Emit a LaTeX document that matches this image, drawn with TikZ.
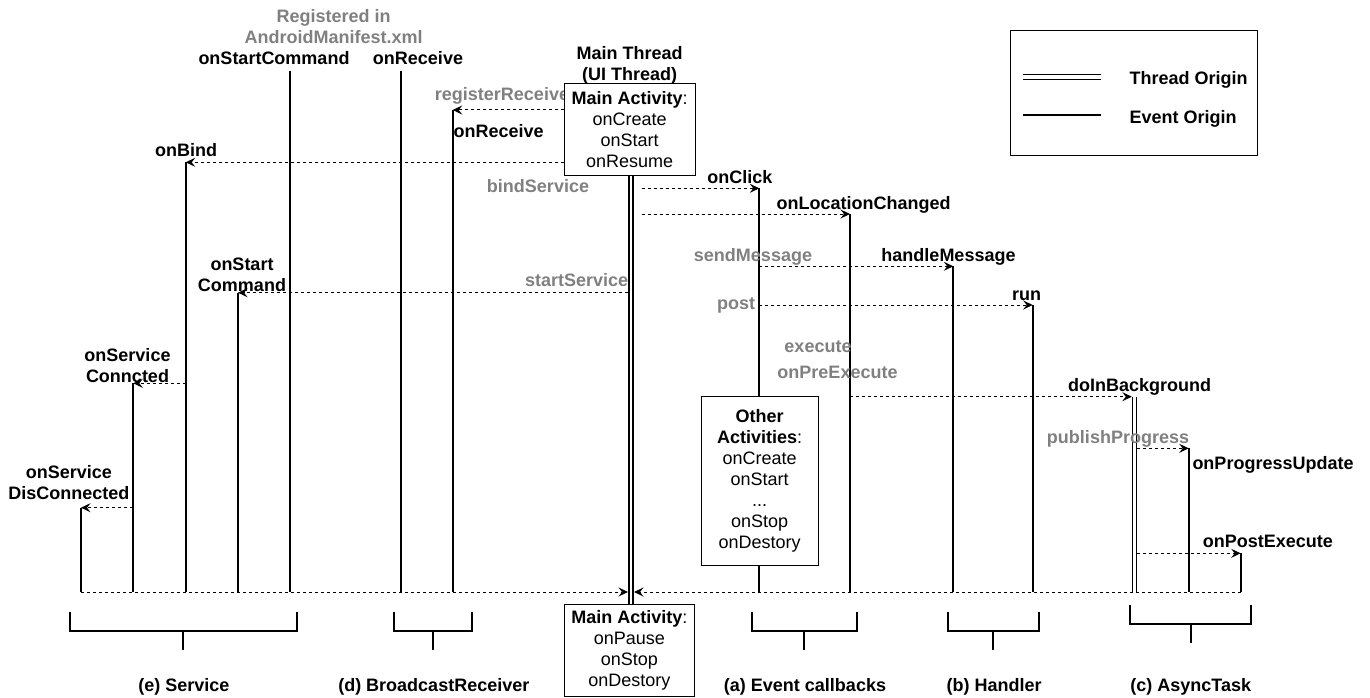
\documentclass[tikz,border=0pt]{standalone}
\usepackage{fontspec}
\setmainfont{Liberation Sans}
\usetikzlibrary{arrows.meta,calc}
\definecolor{lblgray}{RGB}{128,128,128}
\begin{document}
\begin{tikzpicture}[x=1pt,y=-1pt,
  every node/.style={font=\fontsize{18}{21}\selectfont\bfseries, inner sep=0pt},
  lbl/.style={anchor=base},
  glbl/.style={anchor=base, text=lblgray},
  mlbl/.style={align=center, anchor=center},
  life/.style={line width=2pt},
  thread/.style={double, double distance=2.4pt, line width=1.4pt},
  call/.style={dash pattern=on 3pt off 3pt, line width=1pt, -{Stealth[length=9.5pt,width=9pt,inset=3.5pt]}},
  actbox/.style={draw, line width=1pt, fill=white, align=center, font=\fontsize{18}{21}\selectfont, inner sep=0pt},
  brk/.style={line width=2pt},
]
\useasboundingbox (0,0) rectangle (1370,698);

% ---------- reference coordinates ----------
\coordinate (bl) at (0,592);
\coordinate (s1t) at (81,507.7);
\coordinate (s2t) at (133.3,383.3);
\coordinate (s3t) at (185.7,162.3);
\coordinate (s4t) at (238,292.7);
\coordinate (s5t) at (290,70.7);
\coordinate (r1t) at (400.7,70.7);
\coordinate (r2t) at (452.7,110);
\coordinate (e1t) at (759.3,188.3);
\coordinate (e2t) at (850,214);
\coordinate (h1t) at (953.3,266.3);
\coordinate (h2t) at (1032.7,305);
\coordinate (a1t) at (1134.5,396.7);
\coordinate (a1l) at (1131.8,396.7);
\coordinate (a1r) at (1137.3,0);
\coordinate (a2t) at (1188.7,448.3);
\coordinate (a3t) at (1240.7,553.3);
\coordinate (mt) at (631,0);
\coordinate (mtL) at (628,0);
\coordinate (mtR) at (641.7,0);
\coordinate (mtbL) at (628,592);
\coordinate (mtbR) at (634,592);

% ---------- lifelines ----------
\foreach \c in {s1t,s2t,s3t,s4t,s5t,r1t,r2t,e1t,e2t,h1t,h2t,a2t,a3t}
  \draw[life] (\c) -- (\c |- bl);
\draw[thread] (a1t) -- (a1t |- bl);

% ---------- labels ----------
\node[mlbl, text=lblgray] (regl) at (333.6,26.5) {Registered in\\AndroidManifest.xml};
\node[lbl] (l_s5) at (274,64.6) {onStartCommand};
\node[lbl] (l_r1) at (418,64.6) {onReceive};
\node[mlbl] (l_mt) at (629.7,65.5) {Main Thread\\(UI Thread)};
\node[glbl] (l_reg) at (505.5,101) {registerReceiver};
\node[lbl] (l_r2) at (498.7,137) {onReceive};
\node[lbl] (l_s3) at (186,156.3) {onBind};
\node[glbl] (l_bind) at (538,192) {bindService};
\node[lbl] (l_e1) at (739.8,183) {onClick};
\node[lbl] (l_e2) at (863.5,209.7) {onLocationChanged};
\node[mlbl] (l_s4) at (242,274.5) {onStart\\Command};
\node[glbl] (l_start) at (576.7,286.3) {startService};
\node[glbl] (l_send) at (753,261.3) {sendMessage};
\node[lbl] (l_h1) at (948.5,261.3) {handleMessage};
\node[glbl] (l_post) at (736,309.5) {post};
\node[lbl] (l_h2) at (1026.5,300.7) {run};
\node[mlbl] (l_s2) at (127.5,365.5) {onService\\Conncted};
\node[glbl] (l_exec) at (818,352.7) {execute};
\node[glbl] (l_pre) at (837.5,378.3) {onPreExecute};
\node[lbl] (l_a1) at (1139.7,391.3) {doInBackground};
\node[glbl] (l_pub) at (1118,443) {publishProgress};
\node[lbl] (l_a2) at (1273,469.7) {onProgressUpdate};
\node[mlbl] (l_s1) at (68.8,482.7) {onService\\DisConnected};
\node[lbl] (l_a3) at (1267.8,547.7) {onPostExecute};

% ---------- boxes ----------
\node[actbox, minimum width=130.7pt, minimum height=91pt] (mainbox) at (629.7,129.5)
  {\textbf{Main Activity}:\\onCreate\\onStart\\onResume};
\node[actbox, minimum width=117.3pt, minimum height=169.3pt] (otherbox) at (759.7,481.3)
  {\textbf{Other}\\\textbf{Activities}:\\onCreate\\onStart\\...\\onStop\\onDestory};
\node[actbox, minimum width=130pt, minimum height=91.7pt] (endbox) at (629.3,650.8)
  {\textbf{Main Activity}:\\onPause\\onStop\\onDestory};

% main thread
\draw[thread] (mainbox.south -| mt) -- (endbox.north -| mt);

% ---------- calls ----------
\draw[call] (r2t -| mainbox.west) -- (r2t);
\draw[call] (s3t -| mainbox.west) -- (s3t);
\draw[call] (e1t -| mtR) -- (e1t);
\draw[call] (e2t -| mtR) -- (e2t);
\draw[call] (s4t -| mtL) -- (s4t);
\draw[call] (h1t -| e1t) -- (h1t);
\draw[call] (h2t -| e1t) -- (h2t);
\draw[call] (a1l -| e2t) -- (a1l);
\draw[call] (a2t -| a1r) -- (a2t);
\draw[call] (a3t -| a1r) -- (a3t);
\draw[call] (s2t -| s3t) -- (s2t);
\draw[call] (s1t -| s2t) -- (s1t);
\draw[call] (s1t |- bl) -- (mtbL);
\draw[call] (a3t |- bl) -- (mtbR);

% ---------- brackets ----------
\draw[brk] (70,611.7) -- (70,630.7) -- (296.7,630.7) -- (296.7,611.7);
\draw[brk] (183.3,630.7) -- (183.3,650);
\draw[brk] (394.3,611.7) -- (394.3,630.7) -- (472.3,630.7) -- (472.3,611.7);
\draw[brk] (433.3,630.7) -- (433.3,650);
\draw[brk] (752.3,611.7) -- (752.3,630.7) -- (856.7,630.7) -- (856.7,611.7);
\draw[brk] (804.3,630.7) -- (804.3,650);
\draw[brk] (947.7,611.7) -- (947.7,630.7) -- (1039.3,630.7) -- (1039.3,611.7);
\draw[brk] (993.3,630.7) -- (993.3,650);
\draw[brk] (1130,605) -- (1130,624) -- (1251,624) -- (1251,605);
\draw[brk] (1190.7,624) -- (1190.7,643.3);

\node[lbl] (g_e) at (183.8,691.3) {(e) Service};
\node[lbl] (g_d) at (433.8,691.3) {(d) BroadcastReceiver};
\node[lbl] (g_a) at (805,691.3) {(a) Event callbacks};
\node[lbl] (g_b) at (994.2,691.3) {(b) Handler};
\node[lbl] (g_c) at (1190.8,691.3) {(c) AsyncTask};

% ---------- legend ----------
\node[draw, line width=1pt, minimum width=247.7pt, minimum height=124pt] (legend) at (1133.85,93) {};
\coordinate (lg1a) at (1022.7,76.7);
\coordinate (lg1b) at (1101,76.7);
\coordinate (lg2a) at (1022.7,115);
\coordinate (lg2b) at (1101,115);
\draw[double, double distance=4.3pt, line width=1pt] (lg1a) -- (lg1b);
\draw[line width=2pt] (lg2a) -- (lg2b);
\node[anchor=base west] (lgt1) at (1129.3,84.7) {Thread Origin};
\node[anchor=base west] (lgt2) at (1129.3,124) {Event Origin};
\end{tikzpicture}
\end{document}
